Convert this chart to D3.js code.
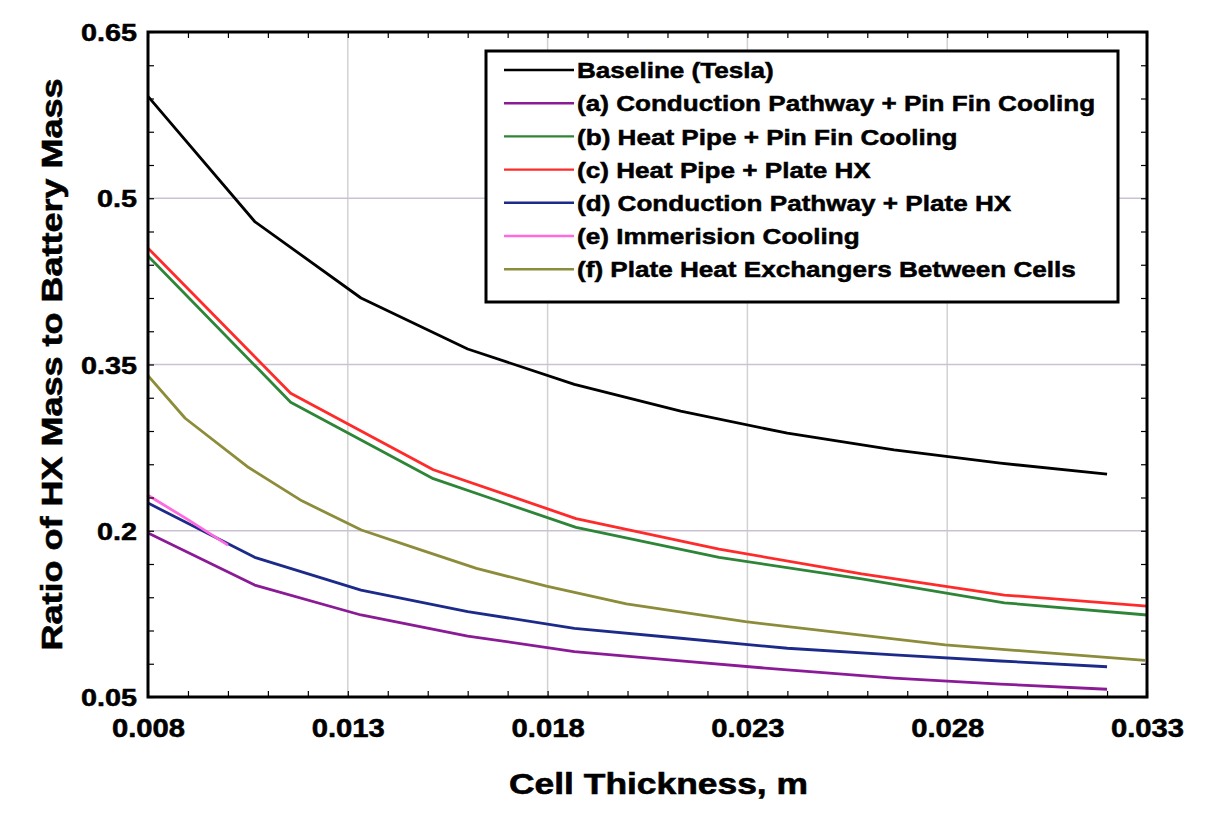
<!DOCTYPE html>
<html>
<head>
<meta charset="utf-8">
<script src="https://cdn.jsdelivr.net/npm/d3@7"></script>
<style>
  body { margin: 0; background: #fff; }
  svg text { font-family: "Liberation Sans", Arial, sans-serif; font-weight: bold; fill: #000; stroke: #000; stroke-width: 0.5px; }
</style>
</head>
<body>
<div id="chart"></div>
<script>
// ---- data ----
var xCoarse = [0.008, 0.01067, 0.01333, 0.016, 0.01867, 0.02133, 0.024, 0.02667, 0.02933, 0.032];
var xPipe = [0.008, 0.01157, 0.01514, 0.01871, 0.02229, 0.02586, 0.02943, 0.033];
var xPlate = [0.008, 0.00893, 0.01048, 0.01185, 0.01334, 0.01488, 0.01622, 0.01797, 0.01997, 0.02295, 0.02795, 0.03295];
var xImmersion = [0.008, 0.009, 0.010];

var baseline = [0.592, 0.479, 0.410, 0.364, 0.332, 0.308, 0.288, 0.273, 0.261, 0.251];
var condPinFin = [0.198, 0.151, 0.124, 0.105, 0.091, 0.0825, 0.0744, 0.0671, 0.0617, 0.057];
var pipePinFin = [0.448, 0.316, 0.247, 0.203, 0.176, 0.1565, 0.135, 0.124];
var pipePlate = [0.455, 0.324, 0.255, 0.211, 0.1835, 0.161, 0.142, 0.132];
var condPlate = [0.225, 0.176, 0.1465, 0.127, 0.112, 0.103, 0.094, 0.088, 0.0825, 0.0773];
var immersion = [0.232, 0.210, 0.187];
var plateBetween = [0.340, 0.3015, 0.258, 0.227, 0.2007, 0.182, 0.166, 0.150, 0.134, 0.118, 0.097, 0.083];

var seriesNames = ["Baseline (Tesla)", "(a) Conduction Pathway + Pin Fin Cooling", "(b) Heat Pipe + Pin Fin Cooling",
    "(c) Heat Pipe + Plate HX", "(d) Conduction Pathway + Plate HX", "(e) Immerision Cooling",
    "(f) Plate Heat Exchangers Between Cells"];
var seriesColors = ["#000000", "#8b1a96", "#2e8538", "#ff2a2a", "#1c2a8a", "#ff6ae0", "#8c8c3a"];

var xMajor = [0.008, 0.013, 0.018, 0.023, 0.028, 0.033];
var yMajor = [0.05, 0.2, 0.35, 0.5, 0.65];
var yLabels = ["0.05", "0.2", "0.35", "0.5", "0.65"];

var series = [
    {name: seriesNames[0], color: seriesColors[0], xs: xCoarse, ys: baseline},
    {name: seriesNames[1], color: seriesColors[1], xs: xCoarse, ys: condPinFin},
    {name: seriesNames[2], color: seriesColors[2], xs: xPipe, ys: pipePinFin},
    {name: seriesNames[3], color: seriesColors[3], xs: xPipe, ys: pipePlate},
    {name: seriesNames[4], color: seriesColors[4], xs: xCoarse, ys: condPlate},
    {name: seriesNames[5], color: seriesColors[5], xs: xImmersion, ys: immersion},
    {name: seriesNames[6], color: seriesColors[6], xs: xPlate, ys: plateBetween}
];

var margin = {top: 32, right: 59, bottom: 121, left: 148};
var width = 1206 - margin.left - margin.right;
var height = 818 - margin.top - margin.bottom;

var svg = d3.select("#chart").append("svg")
    .attr("width", 1206)
    .attr("height", 818)
    .append("g")
    .attr("transform", "translate(" + margin.left + "," + margin.top + ")");

var x = d3.scaleLinear().domain([0.008, 0.033]).range([0, width]);
var y = d3.scaleLinear().domain([0.05, 0.65]).range([height, 0]);

// the original figure's lettering is wider than plain Arial bold
function stretch(sel, k, tx, ty, extra) {
    sel.attr("x", 0).attr("y", 0)
        .attr("transform", "translate(" + tx + "," + ty + ")" + (extra || "") + " scale(" + k + ",1)");
}

// grid lines
svg.selectAll("line.vgrid")
    .data(xMajor.slice(1, -1))
    .enter().append("line")
    .attr("class", "vgrid")
    .attr("x1", d => x(d)).attr("x2", d => x(d))
    .attr("y1", 0).attr("y2", height)
    .attr("stroke", "#d2d2d2").attr("stroke-width", 1.5);

svg.selectAll("line.hgrid")
    .data(yMajor.slice(1, -1))
    .enter().append("line")
    .attr("class", "hgrid")
    .attr("y1", d => y(d)).attr("y2", d => y(d))
    .attr("x1", 0).attr("x2", width)
    .attr("stroke", "#cbc1d3").attr("stroke-width", 1.5);

// lines
svg.append("clipPath").attr("id", "clip")
    .append("rect").attr("width", width).attr("height", height);

var line = d3.line()
    .x(d => x(d[0]))
    .y(d => y(d[1]));

svg.append("g").attr("clip-path", "url(#clip)")
    .selectAll("path.series")
    .data(series)
    .enter().append("path")
    .attr("class", "series")
    .attr("fill", "none")
    .attr("stroke", d => d.color)
    .attr("stroke-width", 2.8)
    .attr("stroke-linejoin", "round")
    .attr("d", d => line(d.xs.map((v, i) => [v, d.ys[i]])));

// minor ticks, pointing inward on all four sides
var xMinor = d3.range(0, 26).map(i => 0.008 + i * 0.001);
var yMinor = d3.range(0, 21).map(i => 0.05 + i * 0.03);

function clean(g) { g.select(".domain").remove(); g.selectAll("line").attr("stroke", "#000").attr("stroke-width", 1.2); }

svg.append("g").attr("transform", "translate(0," + height + ")")
    .call(d3.axisBottom(x).tickValues(xMinor).tickSize(-6).tickFormat(""))
    .call(clean);
svg.append("g")
    .call(d3.axisTop(x).tickValues(xMinor).tickSize(-6).tickFormat(""))
    .call(clean);
svg.append("g")
    .call(d3.axisLeft(y).tickValues(yMinor).tickSize(-6).tickFormat(""))
    .call(clean);
svg.append("g").attr("transform", "translate(" + width + ",0)")
    .call(d3.axisRight(y).tickValues(yMinor).tickSize(-6).tickFormat(""))
    .call(clean);

// tick labels
var xAxis = svg.append("g").attr("transform", "translate(0," + height + ")")
    .call(d3.axisBottom(x).tickValues(xMajor).tickSize(0).tickFormat(d3.format(".3f")));
xAxis.select(".domain").remove();
xAxis.selectAll("text")
    .style("font-size", "25px")
    .attr("dy", null)
    .call(stretch, 1.17, 0, 40);

var yAxis = svg.append("g")
    .call(d3.axisLeft(y).tickValues(yMajor).tickSize(0).tickFormat((d, i) => yLabels[i]));
yAxis.select(".domain").remove();
yAxis.selectAll("text")
    .style("font-size", "24px")
    .attr("dy", null)
    .call(stretch, 1.2, -11, 8.6);

// frame
svg.append("rect")
    .attr("width", width).attr("height", height)
    .attr("fill", "none").attr("stroke", "#000").attr("stroke-width", 3);

// axis titles
svg.append("text")
    .attr("text-anchor", "middle")
    .style("font-size", "30px")
    .style("stroke-width", "0.6px")
    .text("Cell Thickness, m")
    .call(stretch, 1.18, width / 2 + 11, height + 97);

svg.append("text")
    .attr("text-anchor", "middle")
    .style("font-size", "30px")
    .style("stroke-width", "0.6px")
    .text("Ratio of HX Mass to Battery Mass")
    .call(stretch, 1.2, 62 - margin.left, height / 2, " rotate(-90)");

// legend
var legend = svg.append("g").attr("transform", "translate(" + (486 - margin.left) + "," + (51 - margin.top) + ")");
legend.append("rect")
    .attr("width", 632).attr("height", 251)
    .attr("fill", "#fff").attr("stroke", "#000").attr("stroke-width", 3);

var rows = legend.selectAll("g.row")
    .data(series)
    .enter().append("g")
    .attr("class", "row")
    .attr("transform", (d, i) => "translate(0," + (19 + i * 33.2) + ")");
rows.append("line")
    .attr("x1", 18).attr("x2", 88)
    .attr("stroke", d => d.color).attr("stroke-width", 2.4);
rows.append("text")
    .style("font-size", "22.5px")
    .text(d => d.name)
    .call(stretch, 1.16, 91, 8.1);
</script>
</body>
</html>
